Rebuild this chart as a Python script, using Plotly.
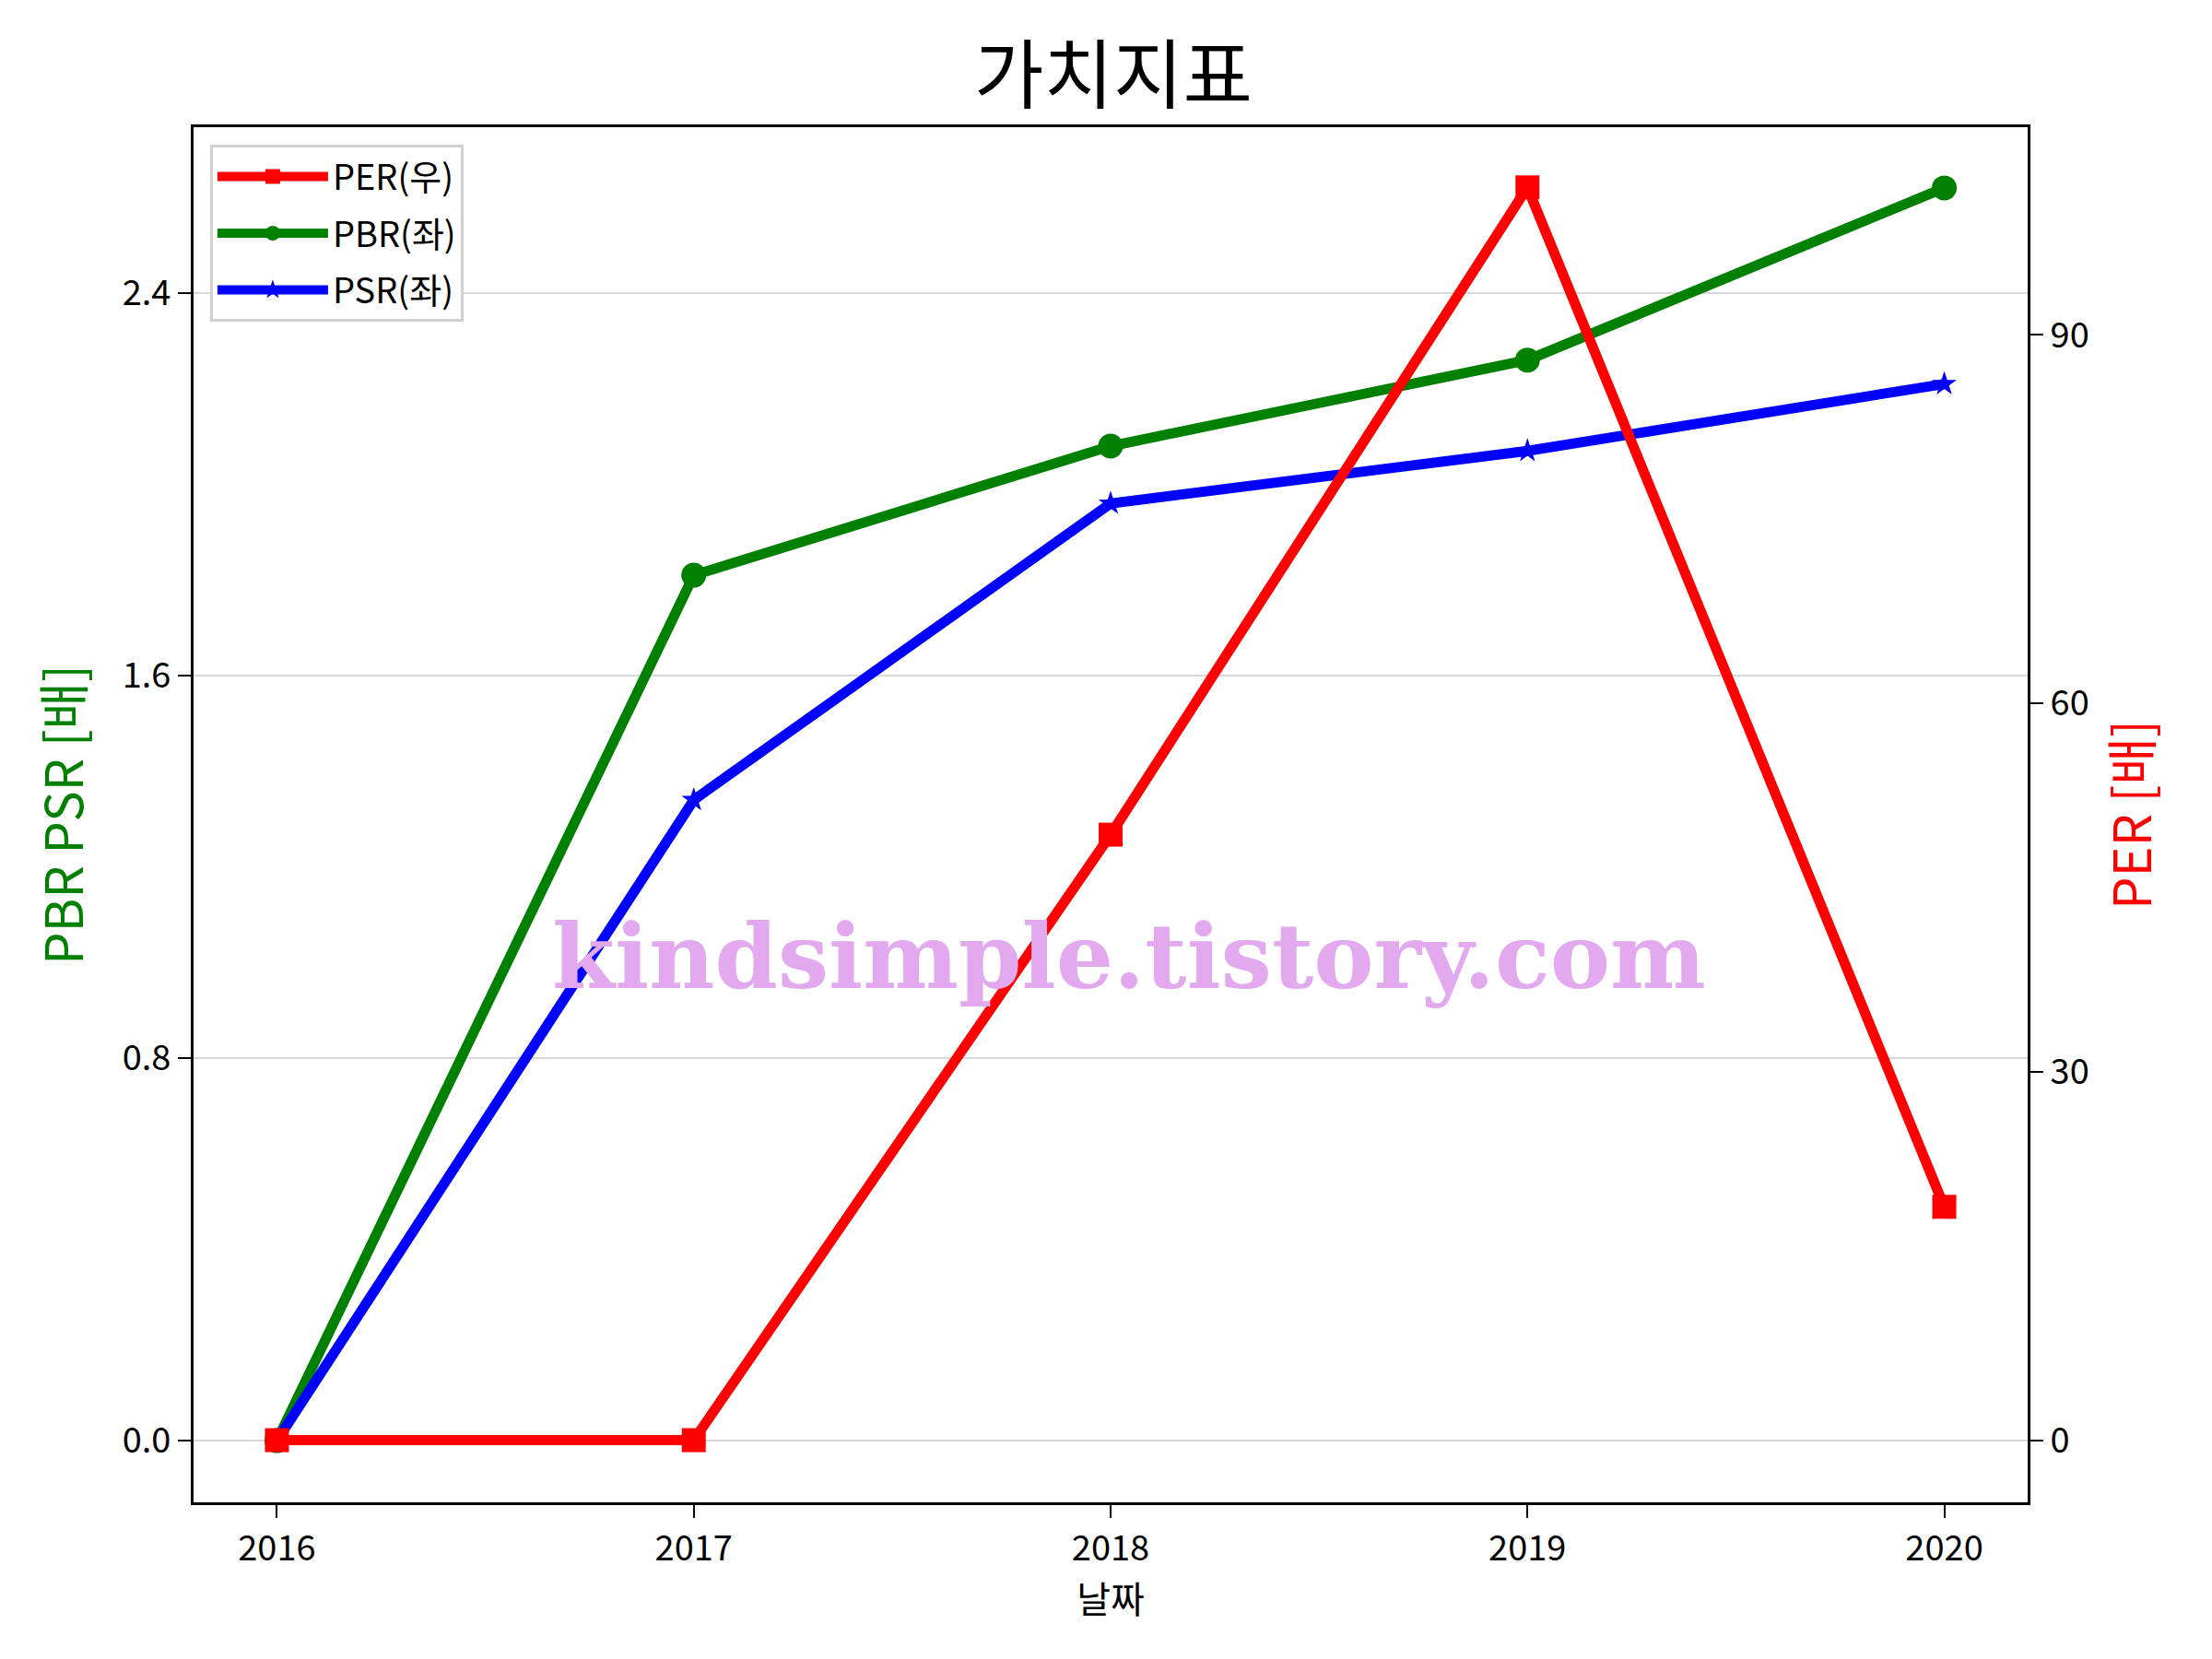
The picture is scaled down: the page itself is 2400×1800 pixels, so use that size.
import plotly.graph_objects as go

years = [2016, 2017, 2018, 2019, 2020]
per = [0.0, 0.0, 49.3, 102.0, 19.0]
pbr = [0.0, 1.81, 2.08, 2.26, 2.62]
psr = [0.0, 1.34, 1.96, 2.07, 2.21]

left_ticks = [0.0, 0.8, 1.6, 2.4]
right_ticks = [0, 30, 60, 90]

FONT = "Noto Sans CJK KR"
LW = 11

fig = go.Figure()
fig.add_trace(go.Scatter(x=years, y=per, name="PER(우)", yaxis="y2", mode="lines+markers",
                         legendgroup="a",
                         line=dict(color="red", width=LW),
                         marker=dict(symbol="square", size=26, color="red")))
fig.add_trace(go.Scatter(x=years, y=pbr, name="PBR(좌)", mode="lines+markers",
                         legendgroup="b",
                         line=dict(color="green", width=LW),
                         marker=dict(symbol="circle", size=27, color="green")))
fig.add_trace(go.Scatter(x=years, y=psr, name="PSR(좌)", mode="lines+markers",
                         legendgroup="c",
                         line=dict(color="blue", width=LW),
                         marker=dict(symbol="star", size=20, color="blue")))

fig.add_annotation(text="<b>kindsimple.tistory.com</b>", xref="paper", yref="paper",
                   x=0.51, y=0.397, showarrow=False,
                   font=dict(family="DejaVu Serif", size=98, color="#E3A9EF"))

fig.update_layout(
    width=2400, height=1800,
    margin=dict(l=202, r=208, t=130, b=178),
    paper_bgcolor="white", plot_bgcolor="white",
    font=dict(family=FONT, size=38, color="black"),
    title=dict(text="가치지표", x=0.5, xanchor="center", y=0.959, yanchor="middle",
               font=dict(family=FONT, size=82, color="black")),
    showlegend=True,
    legend=dict(x=0.009, y=0.987, xanchor="left", yanchor="top",
                bgcolor="rgba(255,255,255,0.85)", bordercolor="#d0d0d0", borderwidth=3,
                font=dict(family=FONT, size=38), itemwidth=120, tracegroupgap=9,
                itemsizing="trace"),
    xaxis=dict(range=[2015.8, 2020.2], tickvals=years, ticktext=[str(y) for y in years],
               showgrid=False, zeroline=False, showline=True, linecolor="black", linewidth=3,
               mirror=True, ticks="outside", ticklen=14, tickwidth=2, tickcolor="black",
               tickfont=dict(size=38),
               title=dict(text="날짜", font=dict(size=40), standoff=12)),
    yaxis=dict(range=[-0.129, 2.747], tickvals=left_ticks, ticktext=["0.0", "0.8", "1.6", "2.4"],
               showgrid=True, gridcolor="#d8d8d8", gridwidth=2, zeroline=False,
               showline=True, linecolor="black", linewidth=3,
               ticks="outside", ticklen=14, tickwidth=2, tickcolor="black",
               tickfont=dict(size=38),
               title=dict(text="PBR PSR [배]", font=dict(size=56, color="green"), standoff=25)),
    yaxis2=dict(range=[-5.06, 106.9], tickvals=right_ticks, overlaying="y", side="right",
                showgrid=False, zeroline=False, showline=True, linecolor="black", linewidth=3,
                ticks="outside", ticklen=14, tickwidth=2, tickcolor="black",
                tickfont=dict(size=38),
                title=dict(text="PER [배]", font=dict(size=56, color="red"), standoff=30)),
)

fig.write_html("out.html")
